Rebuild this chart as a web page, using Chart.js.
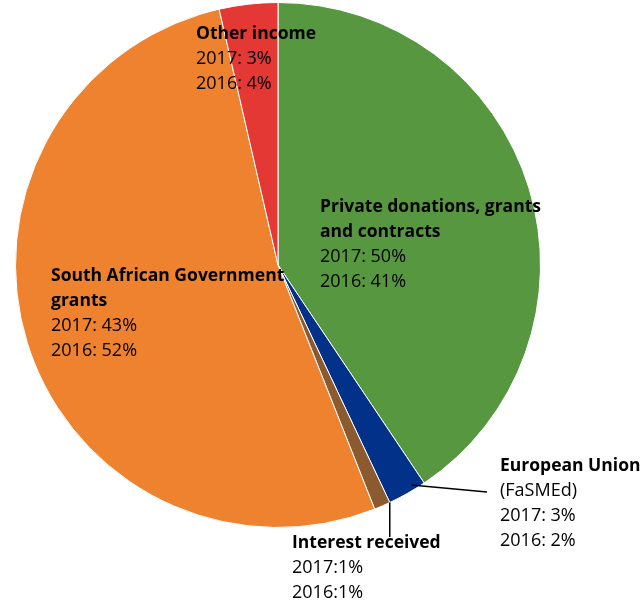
<!DOCTYPE html>
<html>
<head>
<meta charset="utf-8">
<script src="https://cdn.jsdelivr.net/npm/chart.js@4/dist/chart.umd.min.js"></script>
<style>
    body { margin: 0; background: #fff; }
    #wrap { width: 644px; height: 603px; position: relative; }
</style>
</head>
<body>
<div id="wrap"><canvas id="incomeChart"></canvas></div>
<script>
// slices, clockwise from 12 o'clock
const categories = ['Private donations, grants and contracts', 'European Union (FaSMEd)', 'Interest received', 'South African Government grants', 'Other income'];
const shares = [40.6, 2.4, 1.0, 52.4, 3.6];
const colors = ['#56973f', '#02318a', '#8b5a2e', '#ee822f', '#e43834'];

// label text as printed next to each slice
const titleLines = [
    ['Private donations, grants', 'and contracts'],
    ['European Union'],
    ['Interest received'],
    ['South African Government', 'grants'],
    ['Other income']
];
const detailLines = [
    ['2017: 50%', '2016: 41%'],
    ['(FaSMEd)', '2017: 3%', '2016: 2%'],
    ['2017:1%', '2016:1%'],
    ['2017: 43%', '2016: 52%'],
    ['2017: 3%', '2016: 4%']
];

// where each label block starts (left x, middle of first line)
const labelPos = [
    { x: 320, y: 207 },
    { x: 500, y: 466 },
    { x: 292, y: 543 },
    { x: 51, y: 276 },
    { x: 196, y: 34 }
];
const lineH = 25;

const labelPlugin = {
    id: 'sliceLabels',
    afterDraw(chart) {
        const ctx = chart.ctx;
        const arcs = chart.getDatasetMeta(0).data;
        ctx.save();

        // leader lines
        ctx.strokeStyle = '#000';
        ctx.lineWidth = 1.5;
        const eu = arcs[1].getProps(['x', 'y', 'startAngle', 'endAngle', 'outerRadius'], true);
        const euMid = (eu.startAngle + eu.endAngle) / 2 - 0.03;
        const euR = eu.outerRadius * 0.98;
        ctx.beginPath();
        ctx.moveTo(eu.x + Math.cos(euMid) * euR, eu.y + Math.sin(euMid) * euR);
        ctx.lineTo(labelPos[1].x - 13, labelPos[1].y + lineH + 1);
        ctx.stroke();

        const ir = arcs[2].getProps(['x', 'y', 'startAngle', 'outerRadius'], true);
        const irx = ir.x + Math.cos(ir.startAngle) * ir.outerRadius;
        const iry = ir.y + Math.sin(ir.startAngle) * ir.outerRadius;
        ctx.beginPath();
        ctx.moveTo(irx, iry);
        ctx.lineTo(irx, labelPos[2].y - 6);
        ctx.stroke();

        // text
        ctx.fillStyle = '#000';
        ctx.textAlign = 'left';
        ctx.textBaseline = 'middle';
        labelPos.forEach((p, i) => {
            let y = p.y;
            ctx.font = 'bold 17.5px "Open Sans"';
            titleLines[i].forEach(t => { ctx.fillText(t, p.x, y); y += lineH; });
            ctx.font = '18px "Open Sans"';
            detailLines[i].forEach(t => { ctx.fillText(t, p.x, y); y += lineH; });
        });
        ctx.restore();
    }
};

new Chart(document.getElementById('incomeChart'), {
    type: 'pie',
    data: {
        labels: categories,
        datasets: [{
            data: shares,
            backgroundColor: colors,
            borderColor: '#ffffff',
            borderWidth: 1
        }]
    },
    options: {
        responsive: true,
        maintainAspectRatio: false,
        animation: false,
        layout: {
            padding: { left: 15, right: 103, top: 2, bottom: 75 }
        },
        plugins: {
            legend: { display: false },
            tooltip: { enabled: false }
        }
    },
    plugins: [labelPlugin]
});
</script>
</body>
</html>
